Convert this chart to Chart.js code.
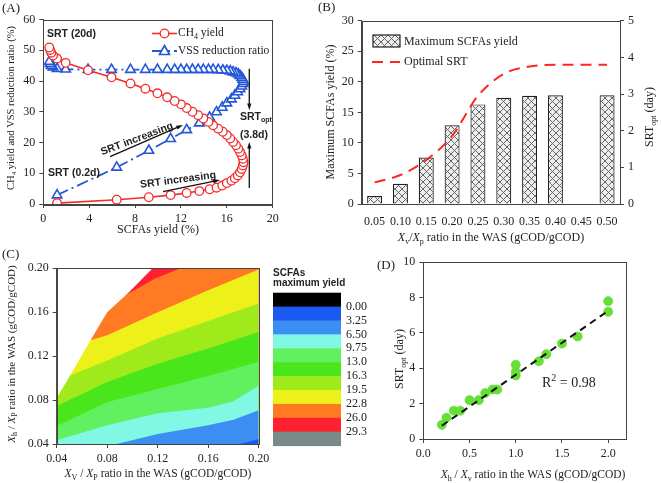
<!DOCTYPE html>
<html>
<head>
<meta charset="utf-8">
<script src="https://cdn.jsdelivr.net/npm/chart.js@4.4.1/dist/chart.umd.min.js"></script>
<style>
body { margin:0; background:#fff; width:661px; height:483px; overflow:hidden; position:relative; }
canvas { position:absolute; }
</style>
</head>
<body>
<canvas id="chartA" width="330" height="240" style="left:0;top:0"></canvas>
<canvas id="chartB" width="343" height="250" style="left:318px;top:0"></canvas>
<canvas id="chartC" width="375" height="238" style="left:0;top:245px"></canvas>
<canvas id="chartD" width="301" height="238" style="left:360px;top:245px"></canvas>
<script>
// (A) SCFAs yield vs CH4 yield / VSS reduction, one point per SRT (0.2d -> 20d)
var scfaYield = [1.2, 6.4, 9.2, 11.1, 12.5, 13.6, 14.5, 15.1, 15.6, 16.0, 16.4, 16.7, 16.95, 17.15, 17.3, 17.4,
  17.45, 17.4, 17.3, 17.15, 17.0, 16.8, 16.55, 16.3, 16.0, 15.65, 15.25, 14.8, 14.4, 13.95, 13.5, 13.0,
  12.5, 12.0, 11.45, 10.8, 9.95, 8.9, 7.6, 5.95, 3.9, 1.95, 1.2, 0.85, 0.7, 0.6, 0.52];
var ch4Yield = [0.3, 1.4, 2.2, 2.9, 3.6, 4.2, 4.8, 5.3, 6.0, 6.8, 7.6, 8.4, 9.3, 10.3, 11.4, 12.5,
  13.6, 14.7, 15.8, 16.9, 18.0, 19.1, 20.2, 21.3, 22.4, 23.5, 24.5, 25.6, 26.7, 27.8, 28.9, 30.0,
  31.2, 32.4, 33.5, 34.7, 36.0, 37.5, 39.2, 41.2, 43.5, 45.9, 47.3, 48.3, 49.2, 50.1, 50.9];
var vssRatio = [2.9, 11.9, 17.4, 21.2, 24.1, 26.3, 28.2, 29.9, 31.4, 32.8, 34.1, 35.3, 36.4, 37.4, 38.3, 39.1,
  39.8, 40.5, 41.1, 41.7, 42.2, 42.6, 42.9, 43.2, 43.4, 43.5, 43.6, 43.7, 43.7, 43.7, 43.7, 43.7,
  43.7, 43.7, 43.7, 43.7, 43.7, 43.7, 43.7, 43.7, 43.7, 43.8, 44.0, 44.5, 45.0, 45.6, 46.3];

// (B)
var vpRatio = ['0.05', '0.10', '0.15', '0.20', '0.25', '0.30', '0.35', '0.40', '0.45', '0.50'];
var maxScfa = [1.3, 3.3, 7.6, 12.9, 16.3, 17.4, 17.7, 17.8, null, 17.8];
var optSrt = [0.59, 0.79, 1.2, 1.86, 2.95, 3.55, 3.75, 3.8, 3.8, 3.8];

// (C) contour band upper edges
var edgeX = [0.04, 0.051, 0.067, 0.080, 0.097, 0.116, 0.20];
var edgeY = [0.082, 0.103, 0.135, 0.160, 0.178, 0.200, 0.200];
var lvlRedX = [0.04, 0.20], lvlRedY = [0.20, 0.20];
var lvlOrangeX = [0.04, 0.097, 0.118, 0.138, 0.20], lvlOrangeY = [0.14, 0.177, 0.1906, 0.20, 0.22];
var lvlYellowX = [0.04, 0.068, 0.08, 0.12, 0.16, 0.20], lvlYellowY = [0.125, 0.135, 0.139, 0.160, 0.180, 0.199];
var lvlYgX = [0.04, 0.051, 0.08, 0.12, 0.16, 0.20], lvlYgY = [0.095, 0.1026, 0.116, 0.136, 0.152, 0.168];
var lvlGreenX = [0.04, 0.08, 0.12, 0.16, 0.20], lvlGreenY = [0.0746, 0.0965, 0.113, 0.127, 0.142];
var lvlLgX = [0.04, 0.08, 0.12, 0.16, 0.20], lvlLgY = [0.0564, 0.0783, 0.090, 0.102, 0.115];
var lvlCyanX = [0.04, 0.08, 0.12, 0.16, 0.18, 0.20], lvlCyanY = [0.0434, 0.057, 0.068, 0.073, 0.079, 0.093];
var lvlBlueX = [0.08, 0.0875, 0.12, 0.16, 0.18, 0.20], lvlBlueY = [0.037, 0.04, 0.049, 0.057, 0.062, 0.0707];
var lvlDeepX = [0.18, 0.185, 0.20], lvlDeepY = [0.038, 0.04, 0.0445];
var cbLabels = ['0.00', '3.25', '6.50', '9.75', '13.0', '16.3', '19.5', '22.8', '26.0', '29.3'];
var cbColors = ['#000000', '#1a5af2', '#3d8ef2', '#80f8e4', '#60f060', '#48e61a', '#9eea1a', '#eef01a', '#ff7a22', '#ff2030', '#7a8a8a'];

// (D)
var hvRatio = [0.2, 0.25, 0.33, 0.4, 0.5, 0.6, 0.67, 0.75, 0.8, 1.0, 1.0, 1.0, 1.25, 1.33, 1.5, 1.67, 2.0, 2.0];
var srtOpt = [0.8, 1.2, 1.6, 1.6, 2.2, 2.2, 2.6, 2.8, 2.8, 3.6, 3.8, 4.2, 4.4, 4.8, 5.4, 5.8, 7.2, 7.8];
var fitX = [0.2, 2.0], fitY = [0.75, 7.25];

var SERIF = "'Liberation Serif', 'Times New Roman', serif";
var SANS = "'Liberation Sans', Arial, sans-serif";
Chart.defaults.font.family = SERIF;
Chart.defaults.font.size = 12;
Chart.defaults.color = '#222';
Chart.defaults.animation = false;
Chart.defaults.plugins.legend.display = false;
Chart.defaults.plugins.tooltip.enabled = false;

function xy(xs, ys) {
  return xs.map(function (x, i) { return { x: x, y: ys[i] }; });
}

function drawRich(ctx, parts, x, y, o) {
  o = o || {};
  var size = o.size || 12, fam = o.family || SERIF;
  ctx.save();
  ctx.translate(x, y);
  ctx.rotate(o.rot || 0);
  ctx.fillStyle = o.color || '#222';
  ctx.textBaseline = 'middle';
  ctx.textAlign = 'left';
  function font(p) {
    var s = (p.sub || p.sup) ? Math.round(size * 0.7) : size;
    return (p.i ? 'italic ' : '') + (o.bold ? 'bold ' : '') + s + 'px ' + fam;
  }
  var w = 0;
  parts.forEach(function (p) { ctx.font = font(p); w += ctx.measureText(p.t).width; });
  var cx = o.align === 'left' ? 0 : -w / 2;
  parts.forEach(function (p) {
    ctx.font = font(p);
    var dy = p.sub ? size * 0.3 : (p.sup ? -size * 0.35 : 0);
    ctx.fillText(p.t, cx, dy);
    cx += ctx.measureText(p.t).width;
  });
  ctx.restore();
}

function arrow(ctx, x1, y1, x2, y2, head) {
  head = head || 7;
  var a = Math.atan2(y2 - y1, x2 - x1);
  ctx.beginPath();
  ctx.moveTo(x1, y1);
  ctx.lineTo(x2 - Math.cos(a) * head * 0.8, y2 - Math.sin(a) * head * 0.8);
  ctx.stroke();
  ctx.beginPath();
  ctx.moveTo(x2, y2);
  ctx.lineTo(x2 - head * Math.cos(a - 0.3), y2 - head * Math.sin(a - 0.3));
  ctx.lineTo(x2 - head * Math.cos(a + 0.3), y2 - head * Math.sin(a + 0.3));
  ctx.closePath();
  ctx.fill();
}

function frame(chart) {
  var a = chart.chartArea, ctx = chart.ctx;
  ctx.save();
  ctx.strokeStyle = '#444';
  ctx.lineWidth = 1;
  ctx.strokeRect(Math.round(a.left) + 0.5, Math.round(a.top) + 0.5, Math.round(a.right - a.left), Math.round(a.bottom - a.top));
  ctx.restore();
}

function linAxis(min, max, step, fit, extra) {
  var s = {
    type: 'linear', min: min, max: max,
    grid: { drawOnChartArea: false, tickLength: 4, color: '#444' },
    border: { color: '#444' },
    ticks: { stepSize: step, padding: 4, color: '#222', font: { size: 12 } },
    afterFit: fit
  };
  for (var k in extra) s[k] = extra[k];
  return s;
}

// ---------- (A) ----------
var redA = '#f52a2a', blueA = '#2456d8';
new Chart(document.getElementById('chartA'), {
  type: 'scatter',
  data: {
    datasets: [{
      data: xy(scfaYield, ch4Yield),
      showLine: true,
      borderColor: redA, borderWidth: 1.6,
      pointRadius: 4.3, pointBackgroundColor: '#fff', pointBorderColor: redA, pointBorderWidth: 1.3
    }, {
      data: xy(scfaYield, vssRatio),
      showLine: true,
      borderColor: blueA, borderWidth: 1.8, borderDash: [12, 4, 2, 4],
      pointStyle: 'triangle', pointRadius: 5.5,
      pointBackgroundColor: '#fff', pointBorderColor: blueA, pointBorderWidth: 1.6
    }]
  },
  options: {
    responsive: false,
    layout: { padding: { left: 0, top: 19.5, right: 57.3, bottom: 0 } },
    scales: {
      x: linAxis(0, 20, 4, function (s) { s.height = 36; }),
      y: linAxis(0, 60, 10, function (s) { s.width = 43.3; })
    }
  },
  plugins: [{
    id: 'annA',
    afterDraw: function (chart) {
      var ctx = chart.ctx, sx = chart.scales.x, sy = chart.scales.y;
      frame(chart);
      function P(x, y) { return [sx.getPixelForValue(x), sy.getPixelForValue(y)]; }
      drawRich(ctx, [{ t: '(A)' }], 2, 9, { size: 13, align: 'left' });
      drawRich(ctx, [{ t: 'CH' }, { t: '4', sub: 1 }, { t: ' yield and VSS reduction ratio (%)' }], 11, 108, { size: 10.5, rot: -Math.PI / 2 });
      drawRich(ctx, [{ t: 'SCFAs yield (%)' }], 158, 230, { size: 12 });
      var b = { size: 10.5, family: SANS, bold: true, align: 'left' };
      drawRich(ctx, [{ t: 'SRT (20d)' }], 47, 34, b);
      drawRich(ctx, [{ t: 'SRT (0.2d)' }], 48, 173, b);
      drawRich(ctx, [{ t: 'SRT' }, { t: 'opt', sub: 1 }], 240, 117, b);
      drawRich(ctx, [{ t: '(3.8d)' }], 240, 135, b);
      drawRich(ctx, [{ t: 'SRT increasing' }], 137, 139, { size: 10.5, family: SANS, bold: true, rot: -0.36 });
      drawRich(ctx, [{ t: 'SRT increasing' }], 178, 180, { size: 10.5, family: SANS, bold: true, rot: -0.13 });
      ctx.save();
      ctx.strokeStyle = '#111'; ctx.fillStyle = '#111'; ctx.lineWidth = 1.3;
      var p1 = P(17.96, 44), p2 = P(17.96, 30.5);
      arrow(ctx, p1[0], p1[1], p2[0], p2[1]);
      p1 = P(17.96, 5.2); p2 = P(17.96, 20.2);
      arrow(ctx, p1[0], p1[1], p2[0], p2[1]);
      p1 = P(5.82, 15.4); p2 = P(12.18, 25.7);
      arrow(ctx, p1[0], p1[1], p2[0], p2[1]);
      p1 = P(10.44, 4.0); p2 = P(15.4, 7.8);
      arrow(ctx, p1[0], p1[1], p2[0], p2[1]);
      // legend
      ctx.lineWidth = 1.6; ctx.strokeStyle = redA;
      ctx.beginPath(); ctx.moveTo(152, 33.5); ctx.lineTo(177, 33.5); ctx.stroke();
      ctx.fillStyle = '#fff'; ctx.lineWidth = 1.3;
      ctx.beginPath(); ctx.arc(164.5, 33.5, 4.3, 0, Math.PI * 2); ctx.fill(); ctx.stroke();
      ctx.strokeStyle = blueA; ctx.lineWidth = 1.8; ctx.setLineDash([12, 4, 2, 4]);
      ctx.beginPath(); ctx.moveTo(152, 51); ctx.lineTo(177, 51); ctx.stroke();
      ctx.setLineDash([]); ctx.lineWidth = 1.6;
      ctx.beginPath(); ctx.moveTo(164.5, 45.5); ctx.lineTo(169.5, 54.5); ctx.lineTo(159.5, 54.5); ctx.closePath(); ctx.fill(); ctx.stroke();
      ctx.restore();
      drawRich(ctx, [{ t: 'CH' }, { t: '4', sub: 1 }, { t: ' yield' }], 178, 33, { size: 11.5, align: 'left' });
      drawRich(ctx, [{ t: 'VSS reduction ratio' }], 178, 51, { size: 11.5, align: 'left' });
    }
  }]
});

// ---------- (B) ----------
var tile = document.createElement('canvas');
tile.width = tile.height = 7;
var tc = tile.getContext('2d');
tc.fillStyle = '#eeeeee'; tc.fillRect(0, 0, 7, 7);
tc.strokeStyle = '#666'; tc.lineWidth = 1;
tc.beginPath(); tc.moveTo(-1, -1); tc.lineTo(8, 8); tc.moveTo(8, -1); tc.lineTo(-1, 8); tc.stroke();
var hatch = document.getElementById('chartB').getContext('2d').createPattern(tile, 'repeat');
var redB = '#ff2626';

new Chart(document.getElementById('chartB'), {
  type: 'bar',
  data: {
    labels: vpRatio,
    datasets: [{
      type: 'line', data: optSrt, yAxisID: 'y1', order: 1,
      borderColor: redB, borderWidth: 2, borderDash: [11, 7],
      pointRadius: 0, cubicInterpolationMode: 'monotone'
    }, {
      data: maxScfa, yAxisID: 'y', order: 2,
      backgroundColor: hatch, borderColor: '#222', borderWidth: 1.2,
      barPercentage: 0.58, categoryPercentage: 1
    }]
  },
  options: {
    responsive: false,
    layout: { padding: { left: 0, top: 20.7, right: 0, bottom: 0 } },
    scales: {
      x: {
        grid: { display: false }, border: { color: '#444' },
        ticks: { autoSkip: false, maxRotation: 0, padding: 3, color: '#222' },
        afterFit: function (s) { s.height = 46; }
      },
      y: linAxis(0, 30, 5, function (s) { s.width = 43.7; }, { position: 'left' }),
      y1: linAxis(0, 5, 1, function (s) { s.width = 41; }, { position: 'right' })
    }
  },
  plugins: [{
    id: 'annB',
    afterDraw: function (chart) {
      var ctx = chart.ctx;
      frame(chart);
      drawRich(ctx, [{ t: '(B)' }], 0, 8, { size: 13, align: 'left' });
      drawRich(ctx, [{ t: 'Maximum SCFAs yield (%)' }], 13, 112, { size: 12, rot: -Math.PI / 2 });
      drawRich(ctx, [{ t: 'SRT' }, { t: 'opt', sub: 1 }, { t: ' (day)' }], 332, 117, { size: 12, rot: -Math.PI / 2 });
      drawRich(ctx, [{ t: 'X', i: 1 }, { t: 'v', sub: 1 }, { t: '/' }, { t: 'X', i: 1 }, { t: 'p', sub: 1 }, { t: ' ratio in the WAS (gCOD/gCOD)' }], 173, 238, { size: 12 });
      ctx.save();
      ctx.fillStyle = hatch; ctx.fillRect(55, 35, 27, 12);
      ctx.strokeStyle = '#222'; ctx.lineWidth = 1.2; ctx.strokeRect(55, 35, 27, 12);
      ctx.strokeStyle = redB; ctx.lineWidth = 2; ctx.setLineDash([11, 7]);
      ctx.beginPath(); ctx.moveTo(54, 62); ctx.lineTo(82, 62); ctx.stroke();
      ctx.restore();
      drawRich(ctx, [{ t: 'Maximum SCFAs yield' }], 86, 41.5, { size: 12, align: 'left' });
      drawRich(ctx, [{ t: 'Optimal SRT' }], 86, 62, { size: 12, align: 'left' });
    }
  }]
});

// ---------- (C) ----------
function band(xs, ys, color, fill) {
  return { data: xy(xs, ys), backgroundColor: color, borderWidth: 0, pointRadius: 0, fill: fill || 'start', tension: 0 };
}
new Chart(document.getElementById('chartC'), {
  type: 'line',
  data: {
    datasets: [
      band(edgeX, edgeY, '#ffffff', 'end'),
      band(lvlDeepX, lvlDeepY, cbColors[1]),
      band(lvlBlueX, lvlBlueY, cbColors[2]),
      band(lvlCyanX, lvlCyanY, cbColors[3]),
      band(lvlLgX, lvlLgY, cbColors[4]),
      band(lvlGreenX, lvlGreenY, cbColors[5]),
      band(lvlYgX, lvlYgY, cbColors[6]),
      band(lvlYellowX, lvlYellowY, cbColors[7]),
      band(lvlOrangeX, lvlOrangeY, cbColors[8]),
      band(lvlRedX, lvlRedY, cbColors[9])
    ]
  },
  options: {
    responsive: false,
    layout: { padding: { left: 0, top: 23.3, right: 116.3, bottom: 0 } },
    scales: {
      x: linAxis(0.04, 0.20, 0.04, function (s) { s.height = 39; }),
      y: linAxis(0.04, 0.20, 0.04, function (s) { s.width = 56.7; })
    }
  },
  plugins: [{
    id: 'annC',
    beforeInit: function (chart) {
      chart.options.scales.x.ticks.callback = function (v) { return v.toFixed(2); };
      chart.options.scales.y.ticks.callback = function (v) { return v.toFixed(2); };
    },
    afterDraw: function (chart) {
      var ctx = chart.ctx;
      frame(chart);
      drawRich(ctx, [{ t: '(C)' }], 2, 10, { size: 13, align: 'left' });
      drawRich(ctx, [{ t: 'X', i: 1 }, { t: 'h', sub: 1 }, { t: ' / ' }, { t: 'X', i: 1 }, { t: 'P', sub: 1 }, { t: ' ratio in the WAS (gCOD/gCOD)' }], 12, 109, { size: 11, rot: -Math.PI / 2 });
      drawRich(ctx, [{ t: 'X', i: 1 }, { t: 'V', sub: 1 }, { t: ' / ' }, { t: 'X', i: 1 }, { t: 'P', sub: 1 }, { t: ' ratio in the WAS (gCOD/gCOD)' }], 158, 229, { size: 11.5 });
      drawRich(ctx, [{ t: 'SCFAs' }], 273, 28, { size: 10, family: SANS, bold: true, align: 'left' });
      drawRich(ctx, [{ t: 'maximum yield' }], 273, 38, { size: 10, family: SANS, bold: true, align: 'left' });
      var top = 47.7, h = 13.9;
      for (var i = 0; i < cbColors.length; i++) {
        ctx.fillStyle = cbColors[i];
        ctx.fillRect(273, top + i * h, 68, h + 0.5);
      }
      for (var j = 0; j < cbLabels.length; j++) {
        drawRich(ctx, [{ t: cbLabels[j] }], 346, top + (j + 1) * h, { size: 12, align: 'left' });
      }
    }
  }]
});

// ---------- (D) ----------
new Chart(document.getElementById('chartD'), {
  type: 'scatter',
  data: {
    datasets: [{
      data: xy(fitX, fitY), showLine: true,
      borderColor: '#111', borderWidth: 2, borderDash: [7, 5], pointRadius: 0
    }, {
      data: xy(hvRatio, srtOpt),
      pointRadius: 4.6, pointBackgroundColor: '#66e036', pointBorderColor: '#5cd42e', pointBorderWidth: 0.5
    }]
  },
  options: {
    responsive: false,
    layout: { padding: { left: 0, top: 17.3, right: 34.3, bottom: 0 } },
    scales: {
      x: linAxis(0, 2.2, 0.5, function (s) { s.height = 44; }),
      y: linAxis(0, 10, 2, function (s) { s.width = 63.3; })
    }
  },
  plugins: [{
    id: 'annD',
    beforeInit: function (chart) {
      chart.options.scales.x.ticks.includeBounds = false;
      chart.options.scales.x.ticks.callback = function (v) { return v.toFixed(1); };
    },
    afterDraw: function (chart) {
      var ctx = chart.ctx;
      frame(chart);
      drawRich(ctx, [{ t: '(D)' }], 17, 21, { size: 13, align: 'left' });
      drawRich(ctx, [{ t: 'SRT' }, { t: 'opt', sub: 1 }, { t: ' (day)' }], 40, 114, { size: 12, rot: -Math.PI / 2 });
      drawRich(ctx, [{ t: 'X', i: 1 }, { t: 'h', sub: 1 }, { t: ' / ' }, { t: 'X', i: 1 }, { t: 'v', sub: 1 }, { t: ' ratio in the WAS (gCOD/gCOD)' }], 173, 230, { size: 11.5 });
      drawRich(ctx, [{ t: 'R' }, { t: '2', sup: 1 }, { t: ' = 0.98' }], 182, 138, { size: 14, align: 'left' });
    }
  }]
});
</script>
</body>
</html>
